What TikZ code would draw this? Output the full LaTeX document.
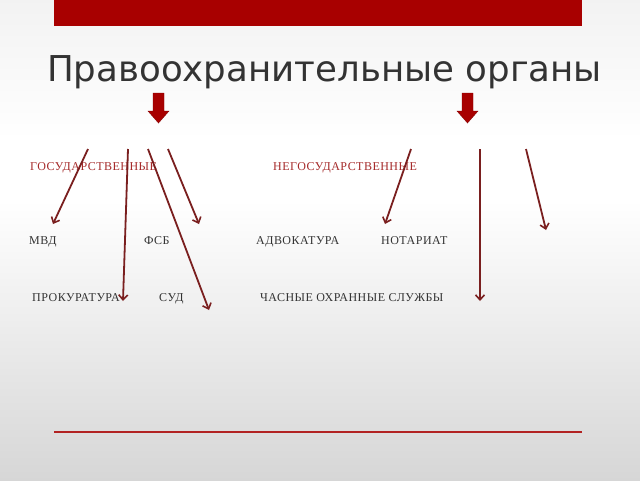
\documentclass[tikz,border=0pt]{standalone}
\usepackage{fontspec}
\setmainfont{Liberation Serif}
\newfontfamily\titlefont{DejaVu Sans}
\newfontfamily\labelfont[LetterSpace=4]{Liberation Serif}
\usetikzlibrary{arrows.meta}
\definecolor{barred}{HTML}{A80000}
\definecolor{linered}{HTML}{B22222}
\definecolor{arrowred}{HTML}{7A1F1F}
\definecolor{labelred}{HTML}{A52A2A}
\definecolor{textgray}{HTML}{333333}
\tikzset{
  lbl/.style={anchor=base west, inner sep=0pt, text=textgray, font=\labelfont\fontsize{12}{14}\selectfont},
  rlbl/.style={lbl, text=labelred},
  thin arrow/.style={draw=arrowred, line width=1.8pt, -{Straight Barb[length=5pt,width=9pt,line width=1.6pt]}},
  block arrow/.style={fill=barred, draw=barred!80!black, line width=0.4pt}
}
\begin{document}
\begin{tikzpicture}[x=1pt,y=-1pt]
\useasboundingbox (0,0) rectangle (640,480);
\shade[top color=black!5, bottom color=white] (0,0) rectangle (640,140);
\fill[white] (0,140) rectangle (640,200);
\shade[top color=white, bottom color=black!16] (0,200) rectangle (640,480);
\fill[barred] (54,0) rectangle (582,26);
\draw[linered, line width=2.2pt] (54,432) -- (582,432);
\node[anchor=base, inner sep=0pt, text=textgray, font=\titlefont\fontsize{35.6}{42}\selectfont] (title) at (324.5,81) {Правоохранительные органы};
% block arrows
\path[block arrow] (153,93) -- (164,93) -- (164,111) -- (169,111) -- (158.5,123) -- (148,111) -- (153,111) -- cycle;
\path[block arrow] (462,93) -- (473,93) -- (473,111) -- (478,111) -- (467.5,123) -- (457,111) -- (462,111) -- cycle;
% labels
\node[rlbl] (gos) at (30,170) {ГОСУДАРСТВЕННЫЕ};
\node[rlbl] (negos) at (273,170) {НЕГОСУДАРСТВЕННЫЕ};
\node[lbl] (mvd) at (29,244) {МВД};
\node[lbl] (fsb) at (144,244) {ФСБ};
\node[lbl] (advo) at (256,244) {АДВОКАТУРА};
\node[lbl] (nota) at (381,244) {НОТАРИАТ};
\node[lbl] (prok) at (32,301) {ПРОКУРАТУРА};
\node[lbl] (sud) at (159,301) {СУД};
\node[lbl] (chop) at (260,301) {ЧАСНЫЕ ОХРАННЫЕ СЛУЖБЫ};
% arrow coordinates
\coordinate (s1) at (88,149);  \coordinate (e1) at (53,224);
\coordinate (s2) at (128,149); \coordinate (e2) at (123,301);
\coordinate (s3) at (148,149); \coordinate (e3) at (209,310);
\coordinate (s4) at (168,149); \coordinate (e4) at (199,224);
\coordinate (s5) at (411,149); \coordinate (e5) at (385,224);
\coordinate (s6) at (480,149); \coordinate (e6) at (480,301);
\coordinate (s7) at (526,149); \coordinate (e7) at (546,230);
\foreach \i in {1,...,7} \draw[thin arrow] (s\i) -- (e\i);
\end{tikzpicture}
\end{document}
